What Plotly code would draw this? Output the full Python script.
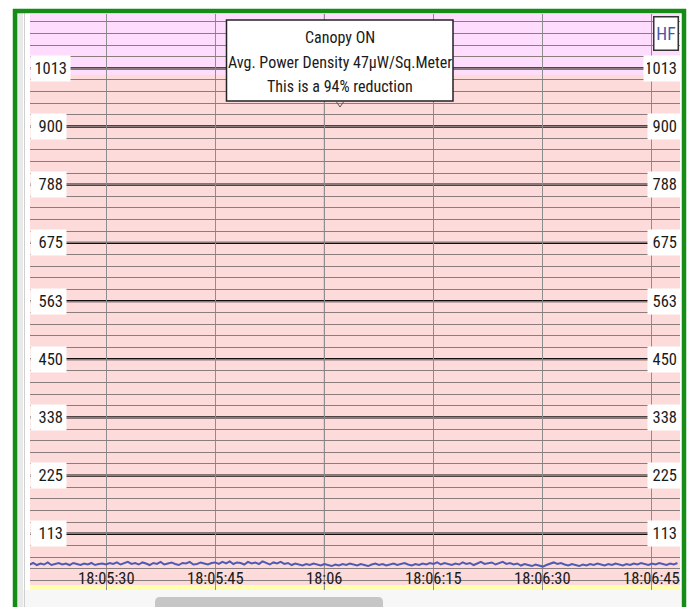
import plotly.graph_objects as go
import pandas as pd

# ---------------- data ----------------
start_time = "2015-06-01 18:05:19.5"
sample_step = "500ms"
signal_values = [
    53, 56, 52, 55, 53, 57, 52, 54, 56, 53, 55, 52, 56, 54, 52, 55, 53, 56, 52, 54, 55,
    53, 56, 54, 57, 53, 55, 58, 54, 56, 53, 57, 55, 52, 56, 54, 58, 53, 55, 57, 54, 52, 56, 55, 58, 53, 54, 57, 55, 53, 56,
    57, 54, 58, 55, 59, 54, 57, 56, 53, 58, 55, 57, 54, 59, 56, 53, 57, 55, 58, 54, 56, 52, 55, 53, 51, 54, 52, 55, 53, 51,
    54, 52, 50, 53, 51, 54, 52, 55, 53, 51, 54, 52, 50, 53, 55, 52, 54, 51, 53, 55, 52, 54, 56, 53, 51, 54, 52, 55, 53, 56,
    54, 57, 53, 56, 54, 52, 55, 53, 57, 54, 56, 52, 55, 58, 54, 56, 57, 53, 55, 58, 54, 56, 53, 55, 51, 54, 52, 50, 53, 51,
    49, 52, 55, 57, 54, 56, 53, 51, 54, 52, 50, 53, 51, 54, 52, 55, 53, 51, 54, 52, 55, 53, 51, 54, 52, 55, 53, 56, 54, 52,
    55, 53, 56, 54, 52, 55, 53, 56,
]
x_tick_times = ["2015-06-01 18:05:30", "2015-06-01 18:05:45", "2015-06-01 18:06:00",
                "2015-06-01 18:06:15", "2015-06-01 18:06:30", "2015-06-01 18:06:45"]
x_tick_labels = ["18:05:30", "18:05:45", "18:06", "18:06:15", "18:06:30", "18:06:45"]
minute_time = "2015-06-01 18:06:00"
x_range = ["2015-06-01 18:05:19.56", "2015-06-01 18:06:48.85"]

y_major_values = [112.5, 225, 337.5, 450, 562.5, 675, 787.5, 900, 1012.5]
y_major_labels = ["113", "225", "338", "450", "563", "675", "788", "900", "1013"]
y_minor_step = 22.5
y_range = [3.7, 1117.6]
upper_band_from = 1000

note_lines = ["Canopy ON", "Avg. Power Density 47\u00b5W/Sq.Meter", "This is a 94% reduction"]
badge_text = "HF"

times = pd.date_range(start=start_time, periods=len(signal_values), freq=sample_step)

# ---------------- geometry helpers (pixels -> paper) ----------------
W, H = 687, 607
ML, MR, MT, MB = 30, 7, 14, 17
PW, PH = W - ML - MR, H - MT - MB


def px(x):
    return (x - ML) / PW


def py(y):
    return (H - MB - y) / PH


FONT = "Roboto Condensed, DejaVu Sans Condensed, sans-serif"
LINE_BLUE = "#4f5bb3"
TXT = "#1a1a1a"

fig = go.Figure()
fig.add_trace(go.Scatter(x=times, y=signal_values, mode="lines",
                         line=dict(color=LINE_BLUE, width=2), hoverinfo="skip",
                         showlegend=False))

shapes = []
# upper (magenta) band
shapes.append(dict(type="rect", xref="paper", x0=0, x1=1, yref="y", y0=upper_band_from, y1=y_range[1],
                   fillcolor="#fddcfd", line=dict(width=0), layer="below"))
# yellow strip at bottom
shapes.append(dict(type="rect", xref="paper", x0=0, x1=1, yref="paper", y0=0, y1=py(585),
                   fillcolor="#ffffae", line=dict(width=0), layer="below"))
# major horizontal lines
for v in y_major_values:
    shapes.append(dict(type="line", xref="paper", x0=0, x1=1, yref="y", y0=v, y1=v,
                       line=dict(color="#141010", width=2.3), layer="between"))
# darker minute line
shapes.append(dict(type="line", xref="x", x0=minute_time, x1=minute_time, yref="paper", y0=0, y1=1,
                   line=dict(color="#4a4a4a", width=1), layer="between"))
# bottom scroll area
shapes.append(dict(type="rect", xref="paper", x0=px(17), x1=px(681), yref="paper", y0=py(640), y1=py(590),
                   fillcolor="#f7f7f7", line=dict(width=0), layer="above"))
# left side strip
shapes.append(dict(type="rect", xref="paper", x0=px(17), x1=px(23), yref="paper", y0=py(640), y1=py(12),
                   fillcolor="#e9e9e9", line=dict(width=0), layer="above"))
shapes.append(dict(type="line", xref="paper", x0=px(24.5), x1=px(24.5), yref="paper", y0=py(640), y1=py(12),
                   line=dict(color="#cfcfcf", width=1), layer="above"))
# scrollbar thumb (rounded)
x0, x1, y0, y1, r = 155, 383, 597, 612, 5
path = (f"M {px(x0 + r)},{py(y0)} L {px(x1 - r)},{py(y0)} "
        f"Q {px(x1)},{py(y0)} {px(x1)},{py(y0 + r)} L {px(x1)},{py(y1)} "
        f"L {px(x0)},{py(y1)} L {px(x0)},{py(y0 + r)} Q {px(x0)},{py(y0)} {px(x0 + r)},{py(y0)} Z")
shapes.append(dict(type="path", xref="paper", yref="paper", path=path,
                   fillcolor="#c6c6c6", line=dict(width=0), layer="above"))
# note box
shapes.append(dict(type="rect", xref="paper", yref="paper", x0=px(226.5), x1=px(453), y0=py(101), y1=py(20),
                   fillcolor="white", line=dict(color="#222222", width=1.5), layer="above"))
# caret under the note box
shapes.append(dict(type="path", xref="paper", yref="paper",
                   path=f"M {px(336.5)},{py(102)} L {px(340)},{py(107)} L {px(343.5)},{py(102)}",
                   line=dict(color="#555555", width=1), layer="above"))
# green frame
shapes.append(dict(type="rect", xref="paper", yref="paper", x0=px(15), x1=px(684), y0=py(660), y1=py(11),
                   line=dict(color="#158c15", width=4.5), fillcolor="rgba(0,0,0,0)", layer="above"))

annotations = []
for v, lab in zip(y_major_values, y_major_labels):
    wl = 33 if len(lab) == 4 else 29
    wr = 30 if len(lab) == 4 else 26
    annotations.append(dict(x=0, xref="paper", xanchor="left", y=v, yref="y", yanchor="middle",
                            text=lab, showarrow=False, bgcolor="white", borderpad=3, width=wl,
                            align="right", font=dict(family=FONT, size=16.5, color=TXT)))
    annotations.append(dict(x=1, xref="paper", xanchor="right", y=v, yref="y", yanchor="middle",
                            text=lab, showarrow=False, bgcolor="white", borderpad=3, width=wr, xshift=1,
                            align="right", font=dict(family=FONT, size=16.5, color=TXT)))

# time labels, placed on the x axis scale inside the plot
for t, lab in zip(x_tick_times, x_tick_labels):
    annotations.append(dict(x=t, xref="x", xanchor="center", y=py(578.5), yref="paper", yanchor="middle",
                            text=lab, showarrow=False, font=dict(family=FONT, size=16.5, color=TXT)))

for line_text, yc in zip(note_lines, [38, 62, 86]):
    annotations.append(dict(x=px(339.5), y=py(yc), xref="paper", yref="paper", xanchor="center",
                            yanchor="middle", text=line_text, showarrow=False,
                            font=dict(family=FONT, size=16, color=TXT)))
annotations.append(dict(x=px(666), y=py(33.5), xref="paper", yref="paper", xanchor="center", yanchor="middle",
                        text=badge_text, showarrow=False, bgcolor="white",
                        bordercolor="#333333", borderwidth=1.5, borderpad=1, width=21, height=30,
                        font=dict(family=FONT, size=17.5, color="#4a55a8")))

fig.update_layout(
    width=W, height=H,
    margin=dict(l=ML, r=MR, t=MT, b=MB, pad=0),
    paper_bgcolor="white", plot_bgcolor="#fddbdb",
    showlegend=False,
    shapes=shapes, annotations=annotations,
    xaxis=dict(type="date", range=x_range, tickvals=x_tick_times, ticktext=x_tick_labels,
               showgrid=True, gridcolor="#8e8e8e", gridwidth=1, zeroline=False, showline=False,
               ticks="", showticklabels=False, fixedrange=True),
    yaxis=dict(range=y_range, tick0=0, dtick=y_minor_step, showgrid=True, gridcolor="#8a7d7d",
               gridwidth=1.4, zeroline=False, showline=False, showticklabels=False, ticks="",
               fixedrange=True),
)

fig.write_html("out.html", config={"displayModeBar": False},
               post_script="document.body.style.margin='0';")
